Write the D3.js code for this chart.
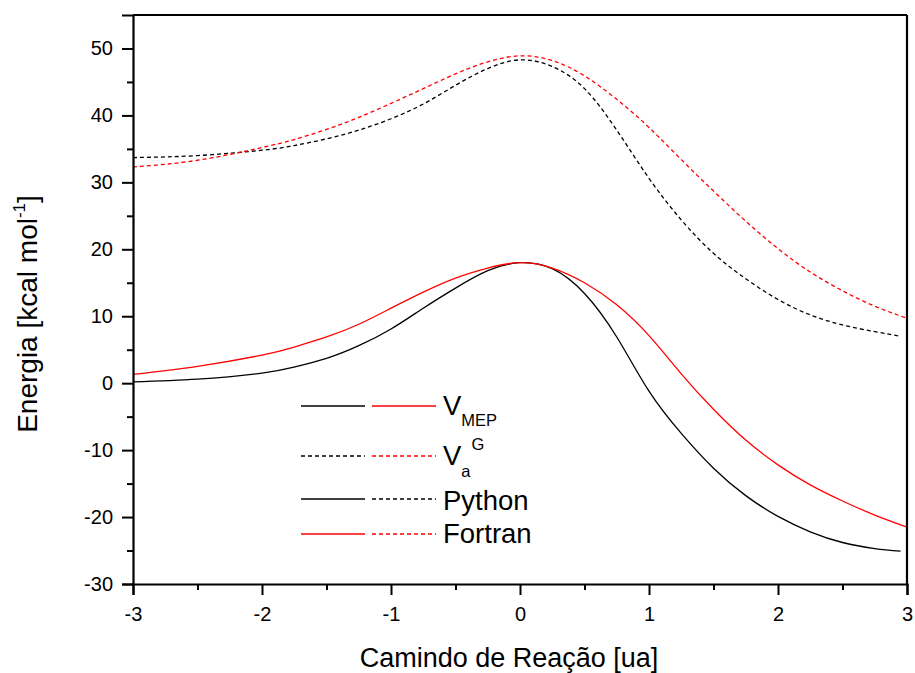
<!DOCTYPE html>
<html>
<head>
<meta charset="utf-8">
<script src="https://cdn.jsdelivr.net/npm/d3@7/dist/d3.min.js"></script>
<style>
  html, body { margin: 0; padding: 0; background: #fff; }
  svg { display: block; font-family: "Liberation Sans", Arial, sans-serif; }
</style>
</head>
<body>
<svg id="chart" width="915" height="673"></svg>
<script>
// ---- Data ----
const xPython  = [-3,-2.5,-2,-1.75,-1.5,-1.25,-1,-0.75,-0.5,-0.25,0,0.25,0.5,0.75,1,1.25,1.5,1.75,2,2.25,2.5,2.75,2.95];
const xFortran = [-3,-2.5,-2,-1.75,-1.5,-1.25,-1,-0.75,-0.5,-0.25,0,0.25,0.5,0.75,1,1.25,1.5,1.75,2,2.25,2.5,2.75,3];

const pythonVMEP = [0.2,0.6,1.5,2.4,3.7,5.6,8.1,11.2,14.2,16.8,18.0,17.1,13.4,6.9,-1.2,-7.5,-12.7,-16.8,-19.9,-22.2,-23.8,-24.7,-25.1];
const pythonVaG  = [33.7,34.0,34.8,35.5,36.5,37.8,39.5,41.7,44.5,47.0,48.3,47.3,44.0,37.8,30.6,24.4,19.4,15.6,12.5,10.2,8.7,7.7,7.0];
const fortranVMEP = [1.3,2.5,4.2,5.4,6.9,8.8,11.2,13.6,15.7,17.2,18.0,17.2,15.0,11.7,7.1,1.4,-3.9,-8.5,-12.2,-15.2,-17.6,-19.7,-21.5];
const fortranVaG  = [32.3,33.3,35.2,36.4,37.9,39.7,41.8,44.0,46.2,48.0,48.9,48.2,45.9,42.4,38.2,33.4,28.7,24.2,20.1,16.6,13.8,11.5,9.7];

const xTicks = [-3,-2,-1,0,1,2,3];
const xMinorTicks = [-2.5,-1.5,-0.5,0.5,1.5,2.5];
const yTicks = [-30,-20,-10,0,10,20,30,40,50];
const yMinorTicks = [-25,-15,-5,5,15,25,35,45];

const xTitle = "Camindo de Reação [ua]";

// ---- Layout ----
const svg = d3.select("#chart");
const mLeft = 133, mRight = 907, mTop = 15, mBottom = 584;

const x = d3.scaleLinear().domain([-3, 3]).range([mLeft, mRight]);
const y = d3.scaleLinear().domain([-30, 55]).range([mBottom, mTop]);

const series = [
  { xs: xPython,  ys: pythonVMEP,  color: "#000000", dash: null },
  { xs: xPython,  ys: pythonVaG,   color: "#000000", dash: "4,3" },
  { xs: xFortran, ys: fortranVMEP, color: "#ff0000", dash: null },
  { xs: xFortran, ys: fortranVaG,  color: "#ff0000", dash: "4,3" }
];

const line = d3.line()
  .x(d => x(d[0]))
  .y(d => y(d[1]))
  .curve(d3.curveNatural);

svg.append("g").selectAll("path")
  .data(series)
  .join("path")
  .attr("d", s => line(s.xs.map((v, i) => [v, s.ys[i]])))
  .attr("fill", "none")
  .attr("stroke", s => s.color)
  .attr("stroke-width", 1.3)
  .attr("stroke-dasharray", s => s.dash);

// ---- Frame (top & right) ----
svg.append("line").attr("x1", mLeft).attr("x2", mRight).attr("y1", mTop).attr("y2", mTop)
  .attr("stroke", "#000").attr("stroke-width", 2.2);
svg.append("line").attr("x1", mRight).attr("x2", mRight).attr("y1", mTop).attr("y2", mBottom)
  .attr("stroke", "#000").attr("stroke-width", 2.2);

// ---- Axes ----
const fmt = d => d3.format("d")(d).replace("\u2212", "-");

svg.append("g").attr("transform", `translate(${mLeft},0)`)
  .call(d3.axisLeft(y).tickValues(yTicks).tickSize(11).tickPadding(9).tickFormat(fmt));
svg.append("g").attr("transform", `translate(${mLeft},0)`)
  .call(d3.axisLeft(y).tickValues(yMinorTicks).tickSize(6).tickFormat(""))
  .call(g => g.select(".domain").remove());

svg.append("g").attr("transform", `translate(0,${mBottom})`)
  .call(d3.axisBottom(x).tickValues(xTicks).tickSize(11).tickPadding(12).tickFormat(fmt));
svg.append("g").attr("transform", `translate(0,${mBottom})`)
  .call(d3.axisBottom(x).tickValues(xMinorTicks).tickSize(6).tickFormat(""))
  .call(g => g.select(".domain").remove());

svg.selectAll(".domain").attr("stroke", "#000").attr("stroke-width", 2.2);
svg.selectAll(".tick line").attr("stroke", "#000").attr("stroke-width", 2);
svg.selectAll(".tick text")
  .attr("font-family", "'Liberation Sans', Arial, sans-serif")
  .attr("font-size", 20).attr("fill", "#000");

// ---- Axis titles ----
svg.append("text")
  .attr("x", 509).attr("y", 667)
  .attr("text-anchor", "middle")
  .attr("font-size", 27)
  .attr("fill", "#000")
  .text(xTitle);

const yt = svg.append("text")
  .attr("transform", "translate(37,314) rotate(-90)")
  .attr("text-anchor", "middle")
  .attr("font-size", 28)
  .attr("fill", "#000");
yt.append("tspan").text("Energia [kcal mol");
yt.append("tspan").attr("font-size", 17).attr("dy", -12).text("-1");
yt.append("tspan").attr("dy", 12).text("]");

// ---- Legend ----
const legendRows = [
  { y: 406, segs: [{ c: "#000", d: null }, { c: "#ff0000", d: null }] },
  { y: 456, segs: [{ c: "#000", d: "4,3" }, { c: "#ff0000", d: "4,3" }] },
  { y: 499, segs: [{ c: "#000", d: null }, { c: "#000", d: "4,3" }] },
  { y: 534, segs: [{ c: "#ff0000", d: null }, { c: "#ff0000", d: "4,3" }] }
];
const segX = [[301, 365], [372, 436]];

const lg = svg.append("g");
legendRows.forEach(r => {
  r.segs.forEach((s, i) => {
    lg.append("line")
      .attr("x1", segX[i][0]).attr("x2", segX[i][1])
      .attr("y1", r.y).attr("y2", r.y)
      .attr("stroke", s.c).attr("stroke-width", 1.3)
      .attr("stroke-dasharray", s.d);
  });
});

const tx = 443, fs = 27.5;
const t1 = lg.append("text").attr("x", tx).attr("y", 415).attr("font-size", fs).attr("fill", "#000");
t1.append("tspan").text("V");
t1.append("tspan").attr("font-size", 16.5).attr("dy", 11).text("MEP");
const t2 = lg.append("text").attr("x", tx).attr("y", 465).attr("font-size", fs).attr("fill", "#000");
t2.append("tspan").text("V");
t2.append("tspan").attr("font-size", 16.5).attr("dy", 12).text("a");
t2.append("tspan").attr("font-size", 16.5).attr("dy", -27).attr("dx", 1).text("G");
lg.append("text").attr("x", tx).attr("y", 510).attr("font-size", fs).attr("fill", "#000").text("Python");
lg.append("text").attr("x", tx).attr("y", 543).attr("font-size", fs).attr("fill", "#000").text("Fortran");
</script>
</body>
</html>
